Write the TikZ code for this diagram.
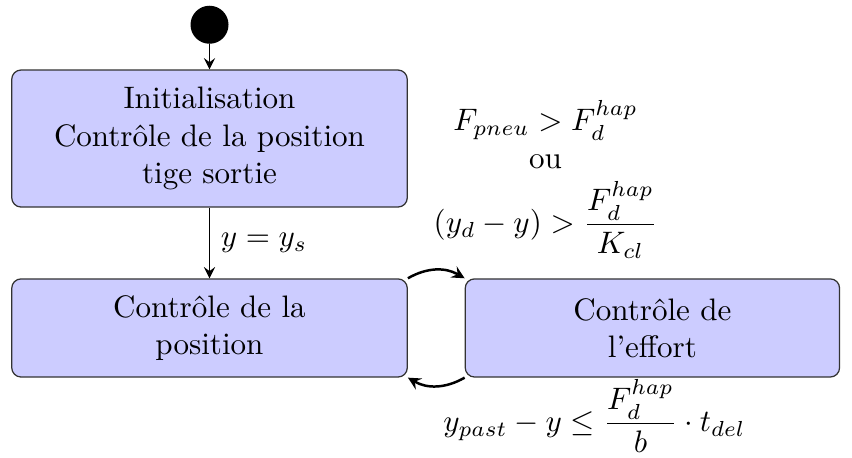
\documentclass[tikz,border=0pt]{standalone}
\usepackage{amsmath}
\begin{document}
\begin{tikzpicture}[x=1cm,y=1cm,>=stealth,
  etat/.style={rectangle,rounded corners=3pt,draw=black!80,fill=blue!20,align=center}]
\useasboundingbox (0,0) rectangle (9.638,-5.17);
\node[circle,fill=black,minimum size=0.43cm,inner sep=0pt] (debut) at (2.37,-0.28) {};
\node[etat,text width=4.24cm,minimum height=1.55cm] (init) at (2.37,-1.567)
  {Initialisation\\ Contrôle de la position\\ tige sortie};
\node[etat,text width=4.24cm,minimum height=1.11cm] (pos) at (2.37,-3.71)
  {Contrôle de la\\ position};
\node[etat,text width=4cm,minimum height=1.11cm] (eff) at (7.38,-3.71)
  {Contrôle de\\ l'effort};
\draw[->,semithick] (debut) -- (init);
\draw[->,semithick] (init) -- node[right] {$y = y_s$} (pos);
\draw[->,thick] (pos.north east) to[bend left]
  node[above right,align=center,xshift=-0.16cm] {$F_{pneu} > F_d^{hap}$\\ ou\\[3pt]
  $(y_d - y) > \dfrac{F_d^{hap}}{K_{cl}}$} (eff.north west);
\draw[->,thick] (eff.south west) to[bend left]
  node[below right,xshift=-0.05cm,yshift=0.2cm] {$y_{past} - y \leq \dfrac{F_d^{hap}}{b}\cdot t_{del}$} (pos.south east);
\end{tikzpicture}
\end{document}
